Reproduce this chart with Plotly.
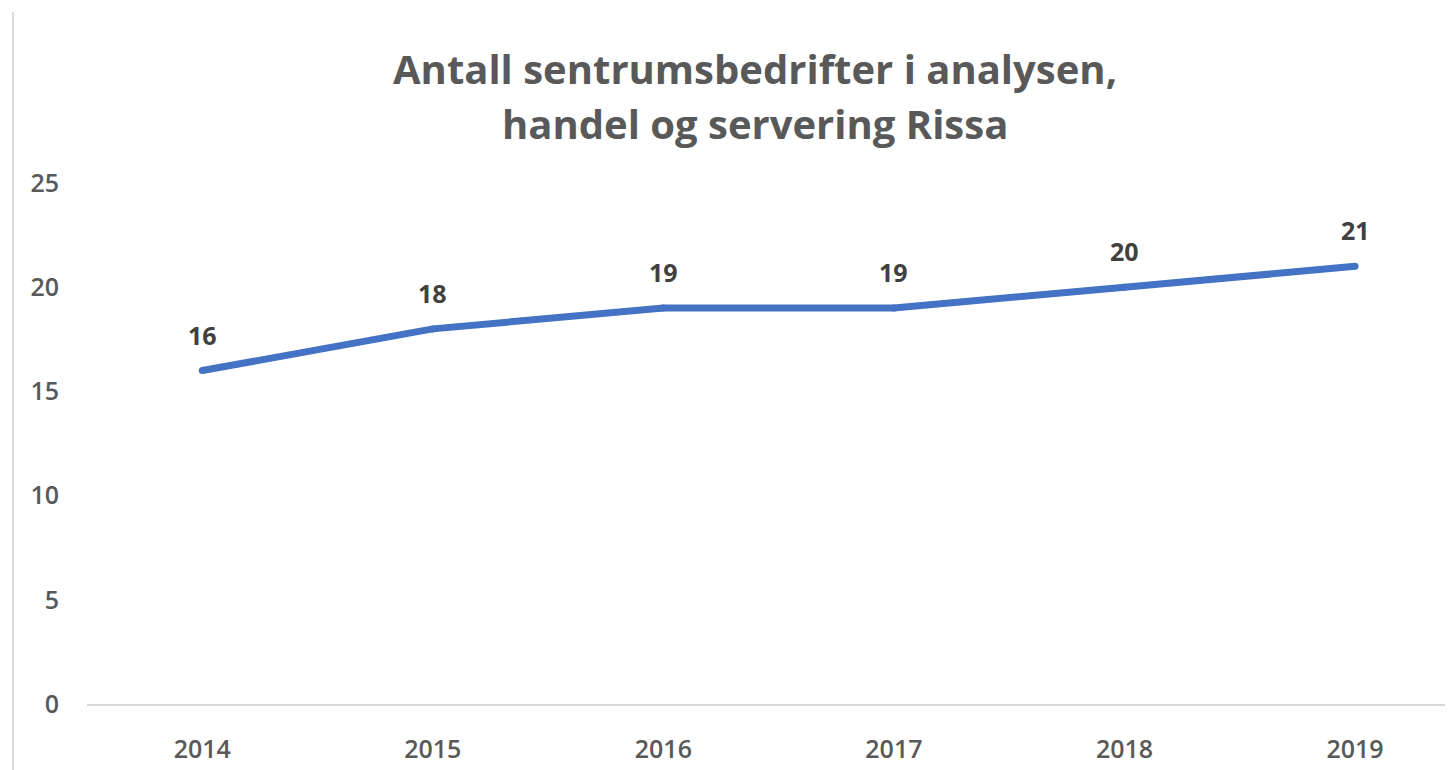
import plotly.graph_objects as go

years = ["2014", "2015", "2016", "2017", "2018", "2019"]
values = [16, 18, 19, 19, 20, 21]
yticks = [0, 5, 10, 15, 20, 25]
title_lines = ["Antall sentrumsbedrifter i analysen,", "handel og servering Rissa"]

OFF = 8  # default body margin of the page
W, H = 1453 - OFF, 770 - OFF
L, R, T, B = 87 - OFF, 0, 183 - OFF, 66
plot_h = H - T - B
plot_w = W - L - R
bottom_px = OFF + H - B

def py(pixel_y):
    return (bottom_px - pixel_y) / plot_h

def px(pixel_x):
    return (pixel_x - OFF - L) / plot_w

fig = go.Figure()
fig.add_trace(go.Scatter(
    x=list(range(len(years))), y=values, mode="lines+markers",
    line=dict(color="#4472C4", width=7),
    marker=dict(color="#4472C4", size=7, line=dict(width=0)),
    hoverinfo="skip", showlegend=False,
))

annotations = []
for i, v in enumerate(values):
    annotations.append(dict(
        x=i, y=v, xref="x", yref="y", text=str(v), showarrow=False,
        yshift=36, yanchor="middle",
        font=dict(family="Open Sans", size=25, color="#404040", weight=700),
    ))
for line, yp in zip(title_lines, [68, 124]):
    annotations.append(dict(
        x=px(755), y=py(yp), xref="paper", yref="paper", text=line,
        showarrow=False, xanchor="center", yanchor="middle",
        font=dict(family="Open Sans", size=40, color="#595959", weight=700),
    ))

fig.update_layout(
    width=W, height=H,
    margin=dict(l=L, r=R, t=T, b=B, autoexpand=False),
    paper_bgcolor="white", plot_bgcolor="white",
    annotations=annotations,
    shapes=[dict(type="line", xref="paper", yref="paper",
                 x0=px(13), x1=px(13), y0=py(12), y1=py(772),
                 line=dict(color="#CFCFCF", width=1.5))],
    xaxis=dict(
        tickmode="array", tickvals=list(range(len(years))), ticktext=years,
        range=[-0.5, 5.425], showgrid=False, zeroline=False,
        showline=True, linecolor="#D9D9D9", linewidth=2,
        ticks="", ticklabelstandoff=22,
        tickfont=dict(family="Open Sans", size=25, color="#595959", weight=600),
    ),
    yaxis=dict(
        range=[0, 25], tickmode="array", tickvals=yticks,
        showgrid=False, zeroline=False, showline=False, ticks="",
        ticklabelstandoff=27,
        tickfont=dict(family="Open Sans", size=25, color="#595959", weight=600),
    ),
)

fig.write_html("out.html")
